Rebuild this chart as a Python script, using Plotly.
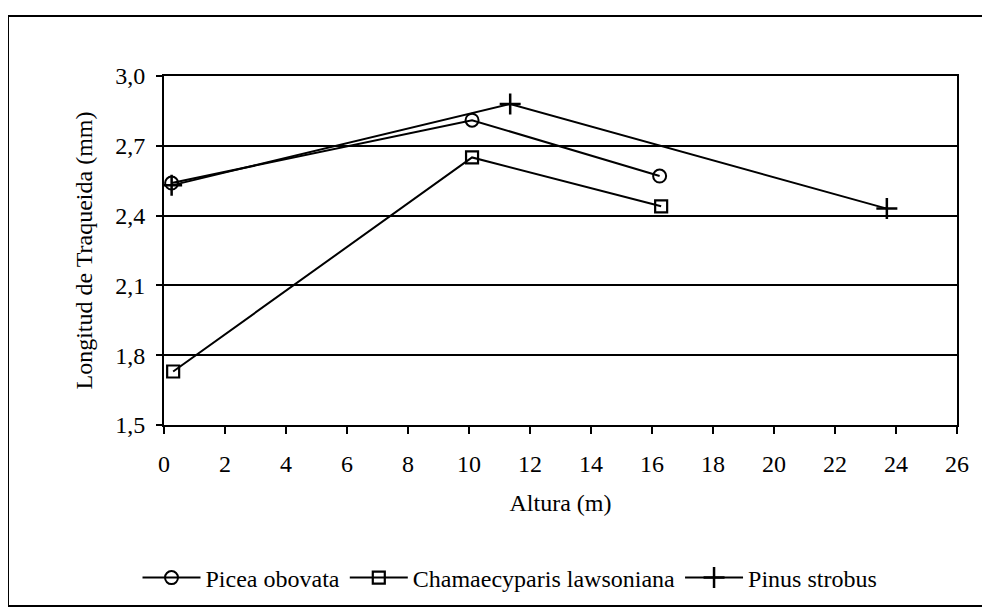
import plotly.graph_objects as go

# Data (Altura in m, Longitud de traqueida in mm)
picea_x = [0.25, 10.1, 16.25]
picea_y = [2.54, 2.81, 2.57]

chama_x = [0.3, 10.1, 16.3]
chama_y = [1.73, 2.65, 2.44]

pinus_x = [0.25, 11.35, 23.7]
pinus_y = [2.53, 2.88, 2.43]

x_ticks = list(range(0, 27, 2))
y_ticks = [1.5, 1.8, 2.1, 2.4, 2.7, 3.0]
y_tick_labels = ["1,5", "1,8", "2,1", "2,4", "2,7", "3,0"]

FONT = "Liberation Serif, Times New Roman, Times, serif"
FS = 24
fig = go.Figure()

fig.add_trace(go.Scatter(
    x=picea_x, y=picea_y, name="Picea obovata", mode="lines+markers",
    line=dict(color="black", width=2),
    marker=dict(symbol="circle-open", size=13, color="black", line=dict(width=2)),
))
fig.add_trace(go.Scatter(
    x=chama_x, y=chama_y, name="Chamaecyparis lawsoniana", mode="lines+markers",
    line=dict(color="black", width=2),
    marker=dict(symbol="square-open", size=12, color="black", line=dict(width=2.2)),
))
fig.add_trace(go.Scatter(
    x=pinus_x, y=pinus_y, name="Pinus strobus", mode="lines+markers",
    line=dict(color="black", width=2),
    marker=dict(symbol="cross-thin-open", size=15, color="black", line=dict(width=2.5, color="black")),
))

# page has an 8px body margin: shift figure coordinates by -8
OFF = 8
W, H = 990, 614
L, T = 164 - OFF, 76 - OFF
R = W - (957 - OFF)
B = H - (425 - OFF)
pw, ph = W - L - R, H - T - B

def px_x(p):
    return (p - OFF - L) / pw

def px_y(p):
    return (H - B - (p - OFF)) / ph

fig.update_layout(
    width=W, height=H,
    margin=dict(l=L, r=R, t=T, b=B),
    paper_bgcolor="white", plot_bgcolor="white",
    font=dict(family=FONT, size=FS, color="black"),
    showlegend=True,
    legend=dict(
        orientation="h", x=px_x(510), y=px_y(578), xanchor="center", yanchor="middle",
        font=dict(family=FONT, size=FS, color="black"),
        itemwidth=58, bgcolor="rgba(0,0,0,0)",
    ),
    xaxis=dict(
        range=[0, 26], tickvals=x_ticks, ticks="outside", ticklen=7, tickwidth=1.5,
        tickcolor="black", showline=True, linecolor="black", linewidth=2, mirror=True,
        showgrid=False, zeroline=False, automargin=False, ticklabelstandoff=9,
        tickfont=dict(family=FONT, size=FS, color="black"),
        title=dict(text="Altura (m)", font=dict(family=FONT, size=FS, color="black"), standoff=18),
    ),
    yaxis=dict(
        range=[1.5, 3.0], tickvals=y_ticks, ticktext=y_tick_labels, ticks="outside",
        ticklen=6, tickwidth=1.5, tickcolor="black", showline=True, linecolor="black",
        linewidth=2, mirror=True, showgrid=True, gridcolor="black", gridwidth=1.5,
        zeroline=False, automargin=False, ticklabelstandoff=6,
        tickfont=dict(family=FONT, size=FS, color="black"),
        title=dict(text="Longitud de Traqueida (mm)", font=dict(family=FONT, size=FS, color="black"), standoff=16),
    ),
    shapes=[dict(
        type="rect", xref="paper", yref="paper",
        x0=px_x(8), x1=px_x(985), y0=px_y(606), y1=px_y(16),
        line=dict(color="black", width=2), fillcolor="rgba(0,0,0,0)", layer="below",
    )],
)

fig.write_html("out.html")
